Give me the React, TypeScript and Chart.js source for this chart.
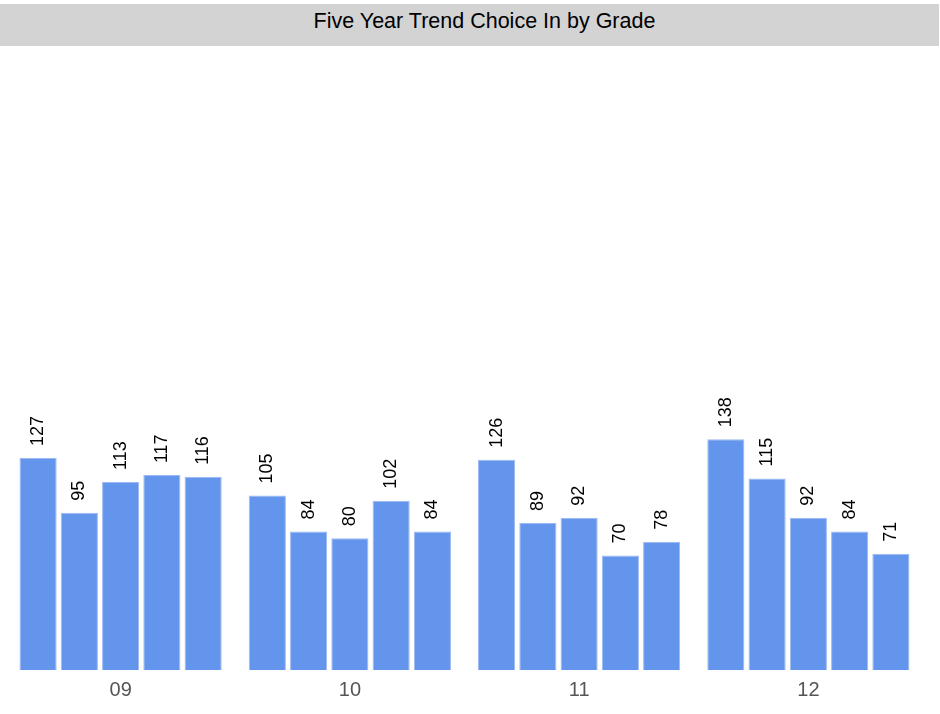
import React, { useEffect, useRef } from "react";
import { Chart, registerables } from "chart.js";

Chart.register(...registerables);

const grades = ["09", "10", "11", "12"];
const seriesNames = ["Year 1", "Year 2", "Year 3", "Year 4", "Year 5"];
const year1 = [127, 105, 126, 138];
const year2 = [95, 84, 89, 115];
const year3 = [113, 80, 92, 92];
const year4 = [117, 102, 70, 84];
const year5 = [116, 84, 78, 71];
const seriesValues = [year1, year2, year3, year4, year5];

const titleText = "Five Year Trend Choice In by Grade";
const FONT = "Arial, 'Liberation Sans', sans-serif";

const valueLabels = {
  id: "valueLabels",
  afterDatasetsDraw(chart: any) {
    const ctx = chart.ctx;
    ctx.save();
    ctx.font = `18px ${FONT}`;
    ctx.fillStyle = "#000";
    ctx.textAlign = "left";
    ctx.textBaseline = "middle";
    chart.data.datasets.forEach((ds: any, i: number) => {
      const meta = chart.getDatasetMeta(i);
      meta.data.forEach((el: any, j: number) => {
        ctx.save();
        ctx.translate(el.x, el.y - 12);
        ctx.rotate(-Math.PI / 2);
        ctx.fillText(String(ds.data[j]), 0, 0);
        ctx.restore();
      });
    });
    ctx.restore();
  },
};

export default function App() {
  const ref = useRef<HTMLCanvasElement>(null);
  useEffect(() => {
    document.body.style.margin = "0";
    const chart = new Chart(ref.current!, {
      type: "bar",
      data: {
        labels: grades,
        datasets: seriesValues.map((vals, i) => ({
          label: seriesNames[i],
          data: vals,
          backgroundColor: "#6495ED",
          borderColor: "#9DB9F2",
          borderWidth: 1,
          categoryPercentage: 0.9,
          barPercentage: 0.9,
        })),
      },
      options: {
        animation: false,
        responsive: false,
        maintainAspectRatio: false,
        layout: { padding: { left: 6, right: 17, top: 0, bottom: 4 } },
        plugins: {
          legend: { display: false },
          title: { display: false },
          tooltip: { enabled: false },
        },
        scales: {
          x: {
            grid: { display: false, drawTicks: false },
            border: { display: false },
            ticks: { color: "#555", font: { size: 20, family: FONT }, padding: 8 },
          },
          y: {
            display: false,
            min: 3,
            max: 368,
          },
        },
      },
      plugins: [valueLabels],
    });
    return () => chart.destroy();
  }, []);
  return (
    <div style={{ width: 940, height: 714, background: "#fff" }}>
      <div style={{ height: 4 }} />
      <div
        style={{
          width: 939,
          height: 42,
          lineHeight: "35px",
          background: "#D3D3D3",
          textAlign: "center",
          fontFamily: FONT,
          fontSize: 21.5,
          color: "#000",
          paddingLeft: 30,
          boxSizing: "border-box",
          whiteSpace: "nowrap",
        }}
      >
        {titleText}
      </div>
      <canvas ref={ref} width={940} height={668} style={{ display: "block" }} />
    </div>
  );
}
